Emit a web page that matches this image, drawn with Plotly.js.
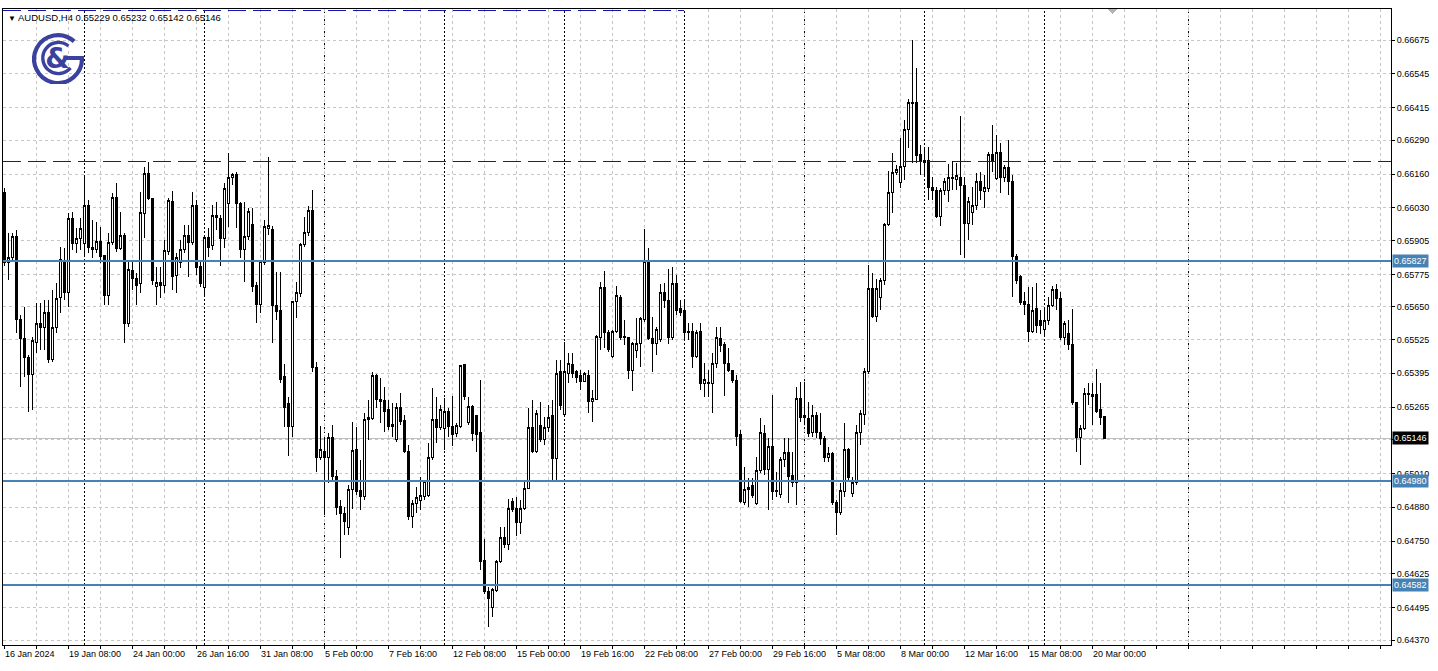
<!DOCTYPE html>
<html><head><meta charset="utf-8">
<script src="https://cdn.plot.ly/plotly-3.0.1.min.js"></script>
<style>html,body{margin:0;padding:0;background:#fff;overflow:hidden}#chart{width:1438px;height:671px}
#chart .boxlayer path{shape-rendering:crispEdges}
#chart .shapelayer path{shape-rendering:crispEdges}
#chart .gridlayer path{shape-rendering:crispEdges}</style>
</head><body><div id="chart"></div>
<script>
const symbol = 'AUDUSD,H4';
const open = [
0.66091,0.65819,0.65838,0.65919,0.65600,0.65527,0.65454,0.65392,0.65515,0.65588,
0.65569,0.65627,0.65446,0.65569,0.65688,0.65826,0.65707,0.65988,0.65895,0.65911,
0.65895,0.66038,0.65880,0.65872,0.65903,0.65846,0.65692,0.65899,0.66072,0.65876,
0.65926,0.65588,0.65788,0.65761,0.65738,0.66007,0.66164,0.66068,0.65730,0.65742,
0.65734,0.65861,0.66053,0.65769,0.65822,0.65872,0.65926,0.65899,0.66041,0.65807,
0.65726,0.65915,0.65884,0.66003,0.65988,0.65911,0.66049,0.66149,0.66157,0.66049,
0.65872,0.65919,0.65968,0.65734,0.65661,0.65822,0.65953,0.65949,0.65654,0.65638,
0.65381,0.65277,0.65189,0.65669,0.65700,0.65888,0.65934,0.66022,0.65419,0.65073,
0.65096,0.65070,0.65150,0.64997,0.64885,0.64858,0.64801,0.64950,0.65104,0.64943,
0.64920,0.65219,0.65223,0.65388,0.65296,0.65292,0.65254,0.65189,0.65139,0.65265,
0.65212,0.65093,0.64843,0.64893,0.64908,0.64920,0.64924,0.65073,0.65219,0.65185,
0.65181,0.65250,0.65189,0.65162,0.65189,0.65427,0.65204,0.65269,0.65231,0.65166,
0.64674,0.64555,0.64497,0.64562,0.64670,0.64766,0.64739,0.64904,0.64874,0.64820,
0.64877,0.64954,0.65185,0.65093,0.65196,0.65142,0.65185,0.65231,0.65066,0.65400,
0.65238,0.65396,0.65427,0.65400,0.65385,0.65365,0.65385,0.65285,0.65296,0.65534,
0.65726,0.65550,0.65461,0.65554,0.65688,0.65538,0.65531,0.65404,0.65481,0.65511,
0.65600,0.65826,0.65527,0.65511,0.65523,0.65707,0.65676,0.65534,0.65738,0.65642,
0.65638,0.65554,0.65554,0.65461,0.65554,0.65354,0.65358,0.65354,0.65434,0.65527,
0.65504,0.65434,0.65404,0.65369,0.65158,0.64900,0.64950,0.64962,0.64893,0.65020,
0.65162,0.65027,0.65112,0.64943,0.64931,0.65062,0.65089,0.65004,0.64977,0.65300,
0.65231,0.65223,0.65166,0.65231,0.65169,0.65146,0.65073,0.65085,0.64900,0.64862,
0.64939,0.65104,0.64935,0.64977,0.65166,0.65238,0.65400,0.65719,0.65615,0.65688,
0.65753,0.65965,0.66088,0.66168,0.66126,0.66191,0.66330,0.66437,0.66437,0.66234,
0.66203,0.66211,0.66107,0.66099,0.65999,0.66099,0.66099,0.66149,0.66141,0.66149,
0.66118,0.65972,0.66011,0.66041,0.66130,0.66095,0.66103,0.66234,0.66145,0.66245,
0.66149,0.66184,0.66130,0.65842,0.65765,0.65669,0.65661,0.65557,0.65642,0.65596,
0.65565,0.65596,0.65657,0.65715,0.65684,0.65534,0.65546,0.65504,0.65281,0.65150,
0.65181,0.65319,0.65312,0.65315,0.65254,0.65229];
const high = [
0.66107,0.65934,0.65934,0.65945,0.65619,0.65650,0.65465,0.65534,0.65665,0.65665,
0.65676,0.65676,0.65715,0.65742,0.65880,0.65876,0.66011,0.66015,0.65953,0.65992,
0.66149,0.66061,0.65984,0.65976,0.65957,0.65849,0.65934,0.66088,0.66126,0.66015,
0.65934,0.65830,0.65830,0.65780,0.66091,0.66187,0.66207,0.66068,0.65803,0.65803,
0.65907,0.66068,0.66095,0.65857,0.65907,0.65965,0.65965,0.66091,0.66061,0.65830,
0.65919,0.65953,0.66041,0.66053,0.66003,0.66126,0.66241,0.66164,0.66168,0.66053,
0.66053,0.66030,0.66030,0.65746,0.65830,0.65984,0.66226,0.65961,0.65784,0.65784,
0.65431,0.65304,0.65673,0.65746,0.65895,0.65995,0.66038,0.66099,0.65438,0.65193,
0.65150,0.65166,0.65196,0.65023,0.64908,0.64881,0.64966,0.65208,0.65189,0.65062,
0.65242,0.65292,0.65400,0.65392,0.65377,0.65342,0.65292,0.65281,0.65281,0.65319,
0.65235,0.65119,0.64908,0.64958,0.64997,0.64985,0.65127,0.65338,0.65304,0.65273,
0.65300,0.65262,0.65308,0.65204,0.65427,0.65431,0.65304,0.65273,0.65235,0.65369,
0.64758,0.64574,0.64570,0.64678,0.64804,0.64804,0.64912,0.64916,0.64920,0.64908,
0.64977,0.65262,0.65292,0.65254,0.65285,0.65227,0.65273,0.65292,0.65446,0.65446,
0.65515,0.65473,0.65473,0.65408,0.65408,0.65400,0.65408,0.65331,0.65542,0.65746,
0.65788,0.65561,0.65561,0.65730,0.65696,0.65600,0.65534,0.65515,0.65607,0.65611,
0.65949,0.65876,0.65611,0.65573,0.65738,0.65742,0.65796,0.65803,0.65773,0.65676,
0.65676,0.65588,0.65588,0.65561,0.65588,0.65434,0.65408,0.65473,0.65573,0.65573,
0.65515,0.65492,0.65408,0.65388,0.65177,0.65035,0.64993,0.64993,0.65073,0.65223,
0.65196,0.65146,0.65312,0.65016,0.65073,0.65146,0.65146,0.65093,0.65342,0.65361,
0.65361,0.65285,0.65273,0.65246,0.65242,0.65154,0.65112,0.65093,0.64908,0.64973,
0.65204,0.65108,0.64997,0.65196,0.65254,0.65415,0.65811,0.65780,0.65757,0.65761,
0.65972,0.66172,0.66241,0.66195,0.66299,0.66368,0.66449,0.66675,0.66568,0.66272,
0.66264,0.66264,0.66149,0.66111,0.66107,0.66145,0.66199,0.66211,0.66203,0.66383,
0.66149,0.66072,0.66111,0.66164,0.66168,0.66157,0.66245,0.66349,0.66310,0.66280,
0.66195,0.66291,0.66157,0.65853,0.65773,0.65707,0.65726,0.65726,0.65742,0.65638,
0.65650,0.65688,0.65730,0.65738,0.65707,0.65596,0.65600,0.65642,0.65285,0.65196,
0.65338,0.65358,0.65358,0.65411,0.65358,0.65232];
const low = [
0.65807,0.65753,0.65822,0.65550,0.65342,0.65381,0.65246,0.65254,0.65473,0.65484,
0.65484,0.65434,0.65438,0.65550,0.65627,0.65676,0.65650,0.65869,0.65857,0.65869,
0.65842,0.65857,0.65838,0.65857,0.65819,0.65657,0.65657,0.65888,0.65861,0.65869,
0.65511,0.65573,0.65715,0.65657,0.65703,0.65915,0.66061,0.65734,0.65657,0.65684,
0.65703,0.65849,0.65715,0.65703,0.65799,0.65857,0.65765,0.65888,0.65773,0.65726,
0.65696,0.65842,0.65869,0.65945,0.65807,0.65876,0.65957,0.66118,0.65953,0.65838,
0.65746,0.65907,0.65707,0.65588,0.65627,0.65811,0.65926,0.65511,0.65600,0.65358,
0.65189,0.65077,0.65150,0.65607,0.65688,0.65880,0.65922,0.65400,0.65016,0.65062,
0.64851,0.64973,0.64977,0.64851,0.64685,0.64774,0.64774,0.64874,0.64927,0.64870,
0.64908,0.65139,0.65216,0.65262,0.65204,0.65169,0.65177,0.65150,0.65131,0.65196,
0.65089,0.64831,0.64801,0.64858,0.64870,0.64908,0.64920,0.65062,0.65127,0.65177,
0.65100,0.65150,0.65116,0.65150,0.65185,0.65292,0.65196,0.65135,0.65093,0.64639,
0.64547,0.64420,0.64459,0.64555,0.64666,0.64724,0.64716,0.64862,0.64770,0.64778,
0.64870,0.64950,0.65089,0.65089,0.65131,0.65119,0.65169,0.64977,0.64977,0.65254,
0.65235,0.65358,0.65377,0.65358,0.65331,0.65361,0.65242,0.65208,0.65292,0.65484,
0.65492,0.65477,0.65454,0.65550,0.65523,0.65504,0.65373,0.65327,0.65454,0.65419,
0.65592,0.65523,0.65400,0.65465,0.65515,0.65646,0.65507,0.65523,0.65619,0.65615,
0.65523,0.65523,0.65415,0.65454,0.65331,0.65304,0.65304,0.65242,0.65415,0.65477,
0.65308,0.65400,0.65358,0.65116,0.64897,0.64889,0.64881,0.64916,0.64889,0.65012,
0.65004,0.64870,0.64908,0.64920,0.64916,0.65035,0.64897,0.64958,0.64889,0.65208,
0.65196,0.65150,0.65150,0.65146,0.65119,0.65054,0.65054,0.64889,0.64774,0.64851,
0.64920,0.64985,0.64920,0.64966,0.65119,0.65196,0.65392,0.65607,0.65592,0.65638,
0.65734,0.65961,0.66011,0.66157,0.66107,0.66138,0.66260,0.66203,0.66203,0.66157,
0.66157,0.66061,0.66061,0.65992,0.65961,0.66080,0.66053,0.66099,0.66099,0.65849,
0.65838,0.65907,0.65965,0.66022,0.66061,0.66030,0.66091,0.66168,0.66138,0.66088,
0.66130,0.66080,0.65688,0.65738,0.65657,0.65619,0.65515,0.65550,0.65550,0.65546,
0.65542,0.65580,0.65650,0.65638,0.65523,0.65504,0.65484,0.65273,0.65093,0.65043,
0.65177,0.65273,0.65196,0.65242,0.65196,0.65142];
const close = [
0.65819,0.65838,0.65919,0.65600,0.65527,0.65454,0.65392,0.65519,0.65588,0.65569,
0.65627,0.65446,0.65569,0.65684,0.65834,0.65707,0.65988,0.65895,0.65911,0.65953,
0.66038,0.65880,0.65869,0.65903,0.65842,0.65692,0.65899,0.66072,0.65876,0.65926,
0.65588,0.65792,0.65761,0.65734,0.66011,0.66164,0.66068,0.65753,0.65742,0.65734,
0.65865,0.66057,0.65765,0.65838,0.65872,0.65926,0.65899,0.66041,0.65803,0.65738,
0.65915,0.65880,0.66003,0.65992,0.65911,0.66103,0.66149,0.66157,0.66049,0.65872,
0.65919,0.66018,0.65730,0.65661,0.65826,0.65957,0.65961,0.65654,0.65634,0.65373,
0.65265,0.65189,0.65669,0.65707,0.65888,0.65934,0.66022,0.65419,0.65073,0.65104,
0.65070,0.65150,0.64997,0.64881,0.64858,0.64824,0.64950,0.65100,0.64939,0.64920,
0.65216,0.65227,0.65388,0.65296,0.65288,0.65250,0.65189,0.65200,0.65265,0.65208,
0.65093,0.64843,0.64893,0.64916,0.64927,0.64981,0.65073,0.65219,0.65185,0.65254,
0.65250,0.65189,0.65158,0.65193,0.65423,0.65304,0.65269,0.65162,0.65158,0.64670,
0.64555,0.64528,0.64566,0.64670,0.64766,0.64739,0.64877,0.64870,0.64820,0.64877,
0.64954,0.65185,0.65096,0.65242,0.65142,0.65185,0.65227,0.65066,0.65396,0.65273,
0.65400,0.65431,0.65396,0.65377,0.65365,0.65396,0.65285,0.65300,0.65538,0.65726,
0.65550,0.65488,0.65554,0.65692,0.65534,0.65531,0.65404,0.65511,0.65511,0.65604,
0.65826,0.65527,0.65511,0.65565,0.65707,0.65676,0.65534,0.65738,0.65638,0.65627,
0.65550,0.65550,0.65461,0.65550,0.65354,0.65373,0.65354,0.65434,0.65531,0.65500,
0.65434,0.65404,0.65369,0.65154,0.64904,0.64950,0.64958,0.64927,0.65020,0.65166,
0.65027,0.65112,0.64939,0.64939,0.65062,0.65089,0.65000,0.64977,0.65300,0.65227,
0.65227,0.65162,0.65231,0.65166,0.65146,0.65073,0.65085,0.64897,0.64862,0.64943,
0.65104,0.64993,0.64977,0.65166,0.65242,0.65400,0.65719,0.65615,0.65719,0.65753,
0.65965,0.66088,0.66168,0.66176,0.66191,0.66330,0.66437,0.66433,0.66230,0.66207,
0.66211,0.66107,0.66099,0.65999,0.66099,0.66130,0.66149,0.66145,0.66153,0.66118,
0.65972,0.66053,0.66041,0.66130,0.66099,0.66107,0.66234,0.66207,0.66245,0.66149,
0.66184,0.66130,0.65842,0.65753,0.65665,0.65661,0.65557,0.65638,0.65577,0.65577,
0.65596,0.65657,0.65715,0.65684,0.65534,0.65588,0.65504,0.65281,0.65150,0.65181,
0.65319,0.65312,0.65304,0.65250,0.65227,0.65146];

const xLabels = ['16 Jan 2024','19 Jan 08:00','24 Jan 00:00','26 Jan 16:00','31 Jan 08:00','5 Feb 00:00',
  '7 Feb 16:00','12 Feb 08:00','15 Feb 00:00','19 Feb 16:00','22 Feb 08:00','27 Feb 00:00',
  '29 Feb 16:00','5 Mar 08:00','8 Mar 00:00','12 Mar 16:00','15 Mar 08:00','20 Mar 00:00'];
const yTicks = [0.66675,0.66545,0.66415,0.66290,0.66160,0.66030,0.65905,0.65775,0.65650,0.65525,
  0.65395,0.65265,0.65140,0.65010,0.64880,0.64750,0.64625,0.64495,0.64370];
const hiddenYTick = 0.65140;
const levelLines = [0.65827, 0.64980, 0.64582];
const dashedLevel = 0.66210;
const topDashedLevel = 0.66787;
const topDashedEndBar = 170;
const weekStarts = [20, 50, 80, 110, 140, 170, 200, 230, 260, 296];

// ---- geometry / styles ----
const W = 1438, H = 671, ML = 3, MR = 47, MT = 9, MB = 26;
const plotW = W - ML - MR, plotH = H - MT - MB;
const xRange = [-0.25, 346.75];
const yRange = [0.643511, 0.667944];
const barsPerLabel = 16, barsPerGrid = 8;
const FONT = 'Liberation Sans, Arial, DejaVu Sans, sans-serif';
const BLUE = '#4682B4', NAVY = '#1414b4', GRID = '#c6c6c6', LOGO = '#3b419e';
const pxX = px => (px - ML) / plotW;
const pxY = py => (H - MB - py) / plotH;

const xIdx = open.map((_, i) => i);
const last = close.length - 1;

const xTickVals = [], xTickText = [];
for (let v = 0; v <= xRange[1]; v += barsPerGrid) {
  xTickVals.push(v);
  const k = v / barsPerLabel;
  xTickText.push(Number.isInteger(k) && k < xLabels.length ? xLabels[k] : '');
}
const yTickText = yTicks.map(v => v === hiddenYTick ? '' : v.toFixed(5));

const trace = {
  type: 'candlestick', x: xIdx, open: open, high: high, low: low, close: close,
  increasing: {line: {color: '#000', width: 1}, fillcolor: '#ffffff'},
  decreasing: {line: {color: '#000', width: 1}, fillcolor: '#000000'},
  whiskerwidth: 0, hoverinfo: 'skip', showlegend: false
};

const shapes = [];
weekStarts.forEach(w => shapes.push({type: 'line', xref: 'x', yref: 'paper', x0: w, x1: w, y0: 0, y1: 1,
  line: {color: '#000', width: 1, dash: '2px,2px'}, layer: 'between'}));
shapes.push({type: 'line', xref: 'paper', yref: 'y', x0: 0, x1: 1, y0: close[last], y1: close[last],
  line: {color: '#c0c0c0', width: 1}, layer: 'between'});
levelLines.forEach(l => shapes.push({type: 'line', xref: 'paper', yref: 'y', x0: 0, x1: 1, y0: l, y1: l,
  line: {color: BLUE, width: 2}, layer: 'above'}));
shapes.push({type: 'line', xref: 'paper', yref: 'y', x0: 0, x1: 1, y0: dashedLevel, y1: dashedLevel,
  line: {color: NAVY, width: 1, dash: '18px,7px'}, layer: 'above'});
shapes.push({type: 'line', xref: 'x', yref: 'y', x0: xRange[0], x1: topDashedEndBar, y0: topDashedLevel, y1: topDashedLevel,
  line: {color: NAVY, width: 1, dash: '18px,7px'}, layer: 'above'});
// chart-shift marker
shapes.push({type: 'path', xref: 'paper', yref: 'paper',
  path: `M ${pxX(1107)} ${pxY(9)} L ${pxX(1117)} ${pxY(9)} L ${pxX(1112)} ${pxY(14)} Z`,
  fillcolor: '#b4b4b4', line: {width: 0}});

const annotations = [];
annotations.push({xref: 'paper', yref: 'paper', x: pxX(6), y: pxY(17), xanchor: 'left', yanchor: 'middle',
  showarrow: false, align: 'left',
  text: '<span style="font-size:8px">▼</span> ' + symbol + ' ' + [open[last], high[last], low[last], close[last]].map(v => v.toFixed(5)).join(' '),
  font: {family: FONT, size: 9.5, color: '#000'}});
const priceBox = (v, bg) => ({xref: 'paper', yref: 'y', x: 1, y: v, xanchor: 'left', yanchor: 'middle',
  xshift: 1, showarrow: false, text: v.toFixed(5), bgcolor: bg, borderpad: 1,
  font: {family: FONT, size: 9, color: '#ffffff'}});
levelLines.forEach(l => annotations.push(priceBox(l, BLUE)));
annotations.push(priceBox(close[last], '#000000'));

const logoSvg = `<svg xmlns="http://www.w3.org/2000/svg" viewBox="0 0 100 100">
<g fill="none" stroke="${LOGO}" stroke-linecap="butt">
<path d="M 81 18 A 46 46 0 1 0 96 50 L 64 50" stroke-width="8"/>
<path d="M 70 27 A 30 30 0 1 0 74 69" stroke-width="6.5"/>
</g>
<text x="49" y="70" text-anchor="middle" font-family="DejaVu Sans, sans-serif" font-weight="bold" font-size="54" fill="${LOGO}">&amp;</text>
</svg>`;
const images = [{source: 'data:image/svg+xml;charset=utf-8,' + encodeURIComponent(logoSvg),
  xref: 'paper', yref: 'paper', x: pxX(32), y: pxY(32), sizex: 52 / plotW, sizey: 52 / plotH,
  xanchor: 'left', yanchor: 'top', sizing: 'contain', layer: 'above'}];

const layout = {
  width: W, height: H, margin: {l: ML, r: MR, t: MT, b: MB, pad: 0},
  paper_bgcolor: '#ffffff', plot_bgcolor: '#ffffff', showlegend: false, boxgap: 0.5, boxgroupgap: 0,
  font: {family: FONT, size: 9, color: '#000'},
  xaxis: {range: xRange, autorange: false, fixedrange: true, rangeslider: {visible: false},
    tickmode: 'array', tickvals: xTickVals, ticktext: xTickText, ticklabelposition: 'outside right',
    ticks: 'outside', ticklen: 3, tickcolor: '#000', tickfont: {family: FONT, size: 9, color: '#000'},
    showgrid: true, gridcolor: GRID, griddash: '3px,3px', gridwidth: 1, zeroline: false,
    showline: true, linecolor: '#000', linewidth: 1, mirror: true},
  yaxis: {range: yRange, autorange: false, fixedrange: true, side: 'right',
    tickmode: 'array', tickvals: yTicks, ticktext: yTickText,
    ticks: 'outside', ticklen: 3, tickcolor: '#000', tickfont: {family: FONT, size: 9, color: '#000'},
    showgrid: true, gridcolor: GRID, griddash: '3px,3px', gridwidth: 1, zeroline: false,
    showline: true, linecolor: '#000', linewidth: 1, mirror: true},
  shapes: shapes, annotations: annotations, images: images
};

Plotly.newPlot('chart', [trace], layout, {displayModeBar: false, staticPlot: true});
</script>
</body></html>
